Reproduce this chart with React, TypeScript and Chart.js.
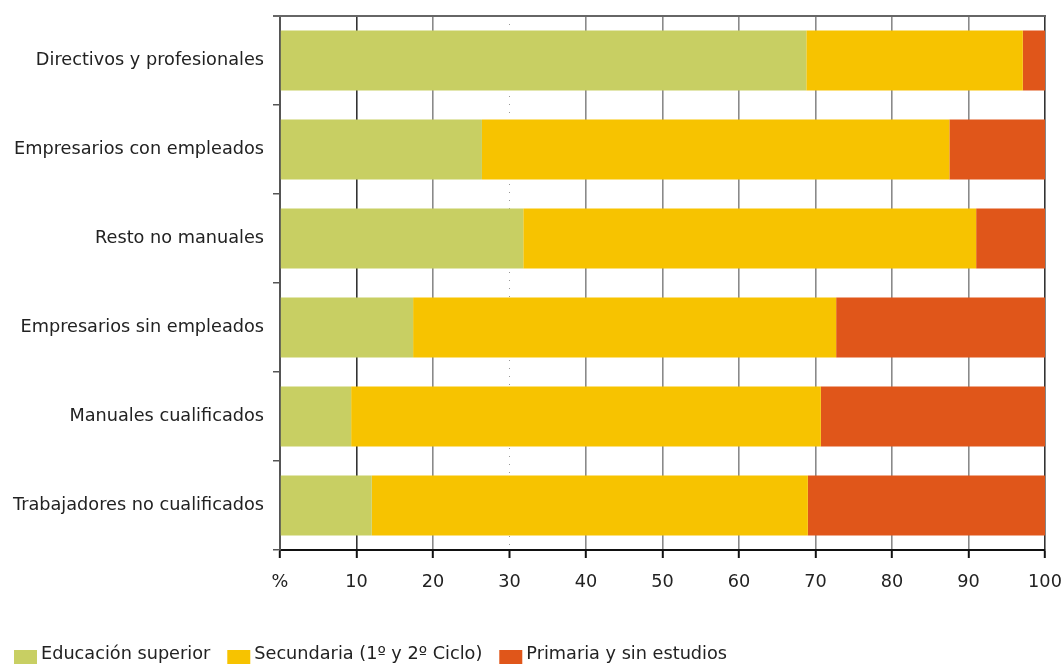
import React, { useEffect, useRef } from "react";
import { Chart, registerables } from "chart.js";

Chart.register(...registerables);

const categories = [
  "Directivos y profesionales",
  "Empresarios con empleados",
  "Resto no manuales",
  "Empresarios sin empleados",
  "Manuales cualificados",
  "Trabajadores no cualificados",
];
const seriesNames = ["Educación superior", "Secundaria (1º y 2º Ciclo)", "Primaria y sin estudios"];
const superior = [68.8, 26.4, 31.8, 17.4, 9.3, 12.0];
const secundaria = [28.3, 61.1, 59.2, 55.3, 61.4, 57.0];
const primaria = [2.9, 12.5, 9.0, 27.3, 29.3, 31.0];
const seriesColors = ["#C8CF63", "#F7C300", "#E0561A"];
const xMin = 0;
const xMax = 100;
const xStep = 10;
const zeroLabel = "%";

const FONT = '"DejaVu Sans", "Liberation Sans", sans-serif';
const FSIZE = 17.7;

const topLinePlugin = {
  id: "topLine",
  afterDraw(chart: any) {
    const { ctx, chartArea } = chart;
    ctx.save();
    ctx.strokeStyle = "#666";
    ctx.lineWidth = 2;
    ctx.beginPath();
    ctx.moveTo(chartArea.left - 7, chartArea.top);
    ctx.lineTo(chartArea.right + 1, chartArea.top);
    ctx.stroke();
    ctx.restore();
  },
};

const legendPlugin = {
  id: "customLegend",
  afterDraw(chart: any) {
    const { ctx } = chart;
    ctx.save();
    ctx.font = `${FSIZE}px ${FONT}`;
    ctx.textBaseline = "alphabetic";
    ctx.textAlign = "left";
    let x = 14;
    const boxW = 23;
    const boxTop = 650;
    const boxH = 14;
    const baseline = 659;
    chart.data.datasets.forEach((ds: any) => {
      ctx.fillStyle = ds.backgroundColor;
      ctx.fillRect(x, boxTop, boxW, boxH);
      x += boxW + 4;
      ctx.fillStyle = "#222";
      ctx.fillText(ds.label, x, baseline);
      x += ctx.measureText(ds.label).width + 17;
    });
    ctx.restore();
  },
};

export default function App() {
  const canvasRef = useRef<HTMLCanvasElement | null>(null);

  useEffect(() => {
    document.body.style.margin = "0";
    const canvas = canvasRef.current;
    if (!canvas) return;
    const chart = new Chart(canvas, {
      type: "bar",
      data: {
        labels: categories,
        datasets: [superior, secundaria, primaria].map((d, i) => ({
          label: seriesNames[i],
          data: d,
          backgroundColor: seriesColors[i],
          borderWidth: 0,
          categoryPercentage: 1,
          barPercentage: 0.674,
        })),
      },
      options: {
        indexAxis: "y",
        animation: false,
        responsive: true,
        maintainAspectRatio: false,
        layout: { padding: { top: 16, right: 16, bottom: 44, left: 0 } },
        plugins: {
          legend: { display: false },
          tooltip: { enabled: false },
        },
        scales: {
          x: {
            stacked: true,
            min: xMin,
            max: xMax,
            ticks: {
              stepSize: xStep,
              color: "#222",
              font: { family: FONT, size: FSIZE },
              padding: 14,
              maxRotation: 0,
              callback: (v: any) => (Number(v) === 0 ? zeroLabel : String(v)),
            },
            grid: {
              color: (c: any) => {
                const v = c.tick?.value;
                if (v === 10 || v === 100) return "#333";
                if (v === 30) return "#999";
                return "#8a8a8a";
              },
              lineWidth: (c: any) => (c.tick?.value === 30 ? 1 : 1.6),
              tickColor: "#111",
              tickWidth: 2,
              tickLength: 8,
            },
            border: {
              display: true,
              color: "#111",
              width: 2,
              dash: (c: any) => (c.tick && c.tick.value === 30 ? [1, 7] : []),
            },
            afterFit: (scale: any) => {
              scale.height = 70;
              scale.paddingLeft = 0;
              scale.paddingRight = 0;
            },
          },
          y: {
            stacked: true,
            ticks: {
              color: "#222",
              font: { family: FONT, size: FSIZE },
              padding: 9,
            },
            grid: {
              drawOnChartArea: false,
              color: "#555",
              lineWidth: 1.5,
              tickLength: 7,
              offset: true,
            },
            border: { display: true, color: "#555", width: 2 },
            afterFit: (scale: any) => {
              scale.width = 280;
              scale.paddingTop = 0;
              scale.paddingBottom = 0;
            },
          },
        },
      },
      plugins: [topLinePlugin, legendPlugin],
    });
    return () => chart.destroy();
  }, []);

  return (
    <div style={{ width: 1061, height: 664, position: "relative" }}>
      <canvas ref={canvasRef} />
    </div>
  );
}
